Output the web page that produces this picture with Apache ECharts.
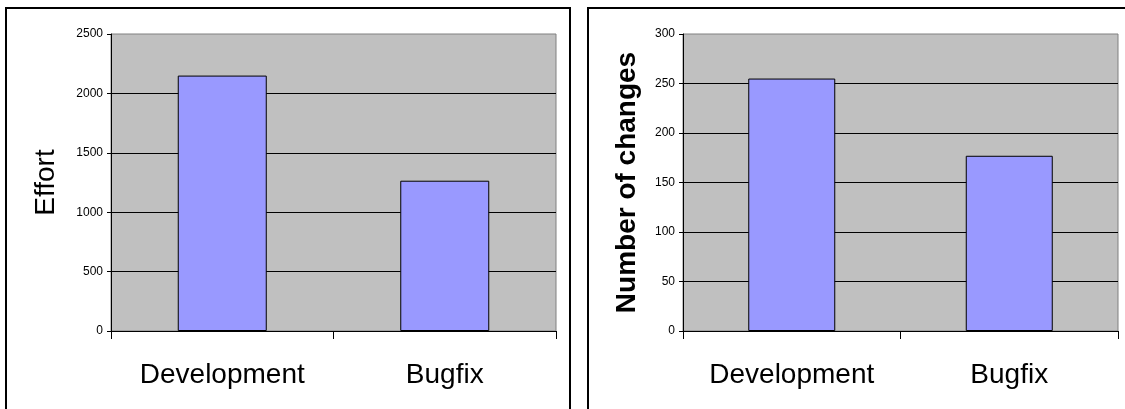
<!DOCTYPE html>
<html>
<head>
<meta charset="utf-8">
<script src="https://cdn.jsdelivr.net/npm/echarts@6/dist/echarts.min.js"></script>
<style>
  html, body { margin: 0; padding: 0; background: #ffffff; }
  #chart { width: 1125px; height: 409px; }
</style>
</head>
<body>
<div id="chart"></div>
<script>
// Work categories shared by both panels
const categories = ['Development', 'Bugfix'];

// Left panel: effort spent per category
const effortValues = [2150, 1265];
const effortAxis = [0, 2500, 500];   // min, max, step

// Right panel: number of changes per category
const changeValues = [255, 177];
const changeAxis = [0, 300, 50];     // min, max, step

const FONT = "'Liberation Sans', Arial, sans-serif";

function valueAxis(gridIndex, range, name, bold, nameGap) {
  return {
    type: 'value',
    gridIndex: gridIndex,
    min: range[0], max: range[1], interval: range[2],
    name: name,
    nameLocation: 'middle',
    nameRotate: 90,
    nameGap: nameGap,
    nameTextStyle: {
      fontFamily: FONT, fontSize: 28,
      fontWeight: bold ? 'bold' : 'normal', color: '#000'
    },
    axisLine: { show: true, lineStyle: { color: '#000', width: 1 } },
    axisTick: { show: true, length: 4, lineStyle: { color: '#000' } },
    axisLabel: {
      fontFamily: FONT, fontSize: 12, color: '#000', margin: 8,
      formatter: function (v) { return String(v); }
    },
    splitLine: { show: true, showMaxLine: false, lineStyle: { color: '#000', width: 1 } }
  };
}

function categoryAxis(gridIndex) {
  return {
    type: 'category',
    gridIndex: gridIndex,
    data: categories,
    boundaryGap: true,
    axisLine: { show: true, lineStyle: { color: '#000', width: 1 } },
    axisTick: { show: true, length: 8, alignWithLabel: false, lineStyle: { color: '#000' } },
    axisLabel: { fontFamily: FONT, fontSize: 28, color: '#000', margin: 30 },
    splitLine: { show: false }
  };
}

function barSeries(index, values) {
  return {
    type: 'bar',
    xAxisIndex: index, yAxisIndex: index,
    data: values,
    barWidth: '40%',
    itemStyle: { color: '#9999FF', borderColor: '#000', borderWidth: 1 },
    emphasis: { disabled: true },
    animation: false
  };
}

const chart = echarts.init(document.getElementById('chart'), null, { renderer: 'canvas' });
chart.setOption({
  animation: false,
  backgroundColor: '#ffffff',
  graphic: [
    { type: 'rect', shape: { x: 6, y: 8, width: 564, height: 430 },
      style: { fill: 'none', stroke: '#000', lineWidth: 2 }, silent: true, z: -1 },
    { type: 'rect', shape: { x: 588, y: 8, width: 560, height: 430 },
      style: { fill: 'none', stroke: '#000', lineWidth: 2 }, silent: true, z: -1 }
  ],
  grid: [
    { left: 111, top: 34, width: 445, height: 297, show: true,
      backgroundColor: '#C0C0C0', borderColor: '#808080', borderWidth: 1 },
    { left: 683, top: 34, width: 435, height: 297, show: true,
      backgroundColor: '#C0C0C0', borderColor: '#808080', borderWidth: 1 }
  ],
  xAxis: [categoryAxis(0), categoryAxis(1)],
  yAxis: [
    valueAxis(0, effortAxis, 'Effort', false, 51),
    valueAxis(1, changeAxis, 'Number of changes', true, 42)
  ],
  series: [barSeries(0, effortValues), barSeries(1, changeValues)]
});
</script>
</body>
</html>
